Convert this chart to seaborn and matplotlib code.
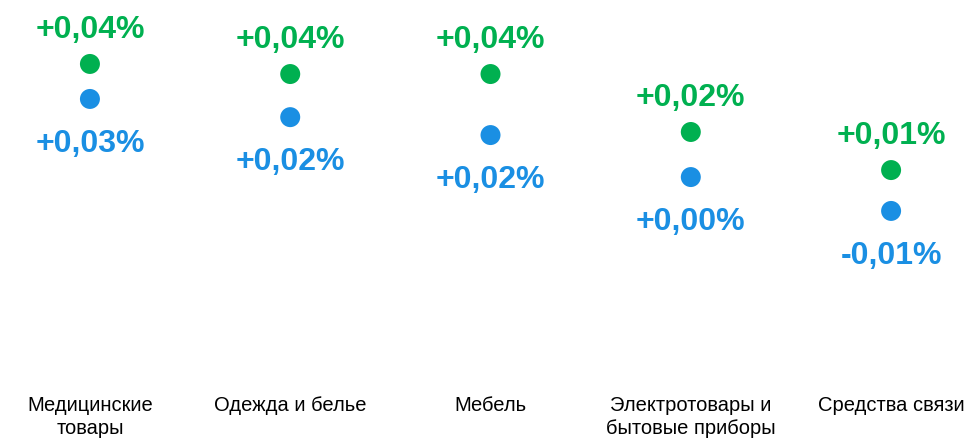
import numpy as np
import pandas as pd
import matplotlib
matplotlib.use("Agg")
import matplotlib.pyplot as plt
import seaborn as sns

# категории и значения (в %)
categories = ["Медицинские\nтовары", "Одежда и белье", "Мебель",
              "Электротовары и\nбытовые приборы", "Средства связи"]
green_vals = [0.0436, 0.0400, 0.0400, 0.0193, 0.0057]
blue_vals = [0.0311, 0.0246, 0.0182, 0.0032, -0.0089]

GREEN = "#00B050"
BLUE = "#1A8FE3"

sns.set_theme(style="white")
plt.rcParams["font.family"] = ["Liberation Sans", "DejaVu Sans"]

df = pd.DataFrame({
    "x": list(range(len(categories))) * 2,
    "value": green_vals + blue_vals,
    "series": ["g"] * len(categories) + ["b"] * len(categories),
})

fig = plt.figure(figsize=(9.64, 4.39), dpi=100)
ax = fig.add_axes([0, 0, 1, 1])

sns.scatterplot(data=df, x="x", y="value", hue="series",
                palette={"g": GREEN, "b": BLUE}, s=207, linewidth=0,
                legend=False, ax=ax)


def fmt(v):
    return f"{v:+.2f}%".replace(".", ",")


for i, (g, b) in enumerate(zip(green_vals, blue_vals)):
    ax.annotate(fmt(g), (i, g), xytext=(0, 27), textcoords="offset pixels",
                ha="center", va="baseline", fontsize=23, fontweight="bold",
                color=GREEN)
    ax.annotate(fmt(b), (i, b), xytext=(0, -52), textcoords="offset pixels",
                ha="center", va="baseline", fontsize=23, fontweight="bold",
                color=BLUE)

# подписи категорий внизу
for i, cat in enumerate(categories):
    ax.text(i, 0.098, cat, transform=ax.get_xaxis_transform(),
            ha="center", va="top", fontsize=14.5, color="black",
            linespacing=1.25)

ax.set_xlim(-0.449, 4.364)
ax.set_ylim(-0.09, 0.0668)
ax.axis("off")

fig.savefig("out.png", dpi=100)
